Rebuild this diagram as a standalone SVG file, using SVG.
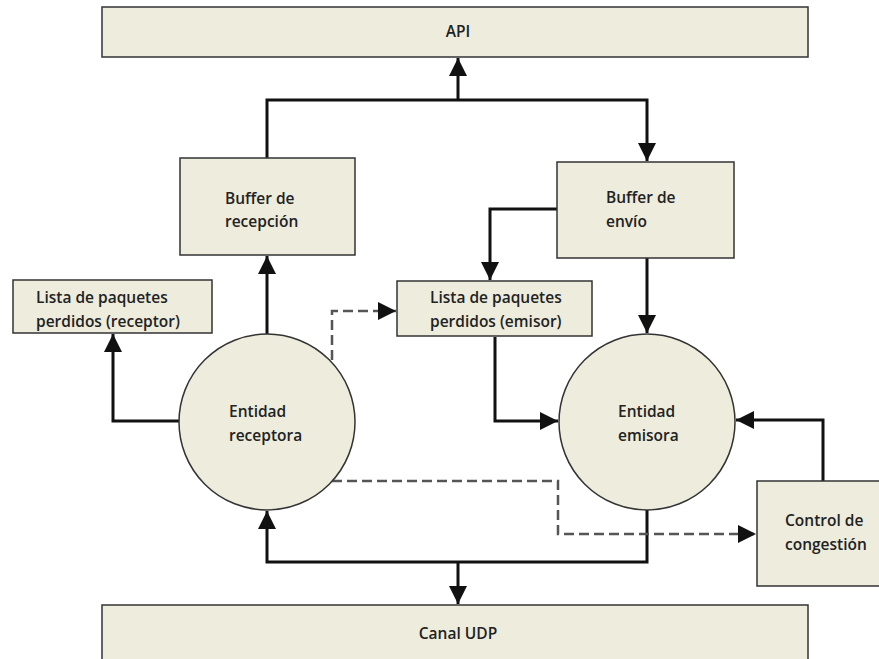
<svg xmlns="http://www.w3.org/2000/svg" width="879" height="659" viewBox="0 0 879 659">
<defs>
<style>
.box{fill:#edecdd;stroke:#333;stroke-width:1.5}
.t{font-family:"Open Sans","Liberation Sans",sans-serif;font-size:15.5px;font-weight:600;fill:#222}
.c{text-anchor:middle}
.ln{fill:none;stroke:#111;stroke-width:3}
.dash{fill:none;stroke:#555;stroke-width:2.5;stroke-dasharray:10,5}
</style>
<marker id="ah" viewBox="0 0 10 10" refX="10" refY="5" markerWidth="6" markerHeight="6" markerUnits="strokeWidth" orient="auto">
<path d="M0,0 L10,5 L0,10 z" fill="#111"/>
</marker>
<marker id="ahd" viewBox="0 0 10 10" refX="10" refY="5" markerWidth="7.2" markerHeight="7.2" markerUnits="strokeWidth" orient="auto">
<path d="M0,0 L10,5 L0,10 z" fill="#111"/>
</marker>
</defs>
<rect width="879" height="659" fill="#fff"/>
<g id="connectors">
<path class="ln" d="M458,100 V58" marker-end="url(#ah)"/>
<path class="ln" d="M267,158 V100 H647 V161" marker-end="url(#ah)"/>
<path class="ln" d="M267,334 V256" marker-end="url(#ah)"/>
<path class="ln" d="M180,421 H113 V334" marker-end="url(#ah)"/>
<path class="ln" d="M557,209 H490 V280" marker-end="url(#ah)"/>
<path class="ln" d="M647,258 V333" marker-end="url(#ah)"/>
<path class="ln" d="M495,337 V421 H558" marker-end="url(#ah)"/>
<path class="ln" d="M823,481 V420 H736" marker-end="url(#ah)"/>
<path class="ln" d="M647,510 V562 H267 V511" marker-end="url(#ah)"/>
<path class="ln" d="M458,562 V604" marker-end="url(#ah)"/>
<path class="dash" d="M332,360 V311 H396" marker-end="url(#ahd)"/>
<path class="dash" d="M332,481 H558 V534 H756" marker-end="url(#ahd)"/>
</g>
<g id="api">
<rect class="box" x="102" y="7" width="706" height="50"/>
<text class="t c" x="458" y="37">API</text>
</g>
<g id="buffer-recepcion">
<rect class="box" x="180" y="158" width="175" height="97"/>
<text class="t" x="225" y="204">Buffer de</text>
<text class="t" x="225" y="227">recepción</text>
</g>
<g id="buffer-envio">
<rect class="box" x="557" y="162" width="177" height="96"/>
<text class="t" x="606" y="203">Buffer de</text>
<text class="t" x="606" y="227">envío</text>
</g>
<g id="lista-receptor">
<rect class="box" x="13" y="280" width="199" height="53"/>
<text class="t" x="36" y="303">Lista de paquetes</text>
<text class="t" x="36" y="327">perdidos (receptor)</text>
</g>
<g id="lista-emisor">
<rect class="box" x="397" y="281" width="195" height="55"/>
<text class="t" x="430" y="303">Lista de paquetes</text>
<text class="t" x="430" y="327">perdidos (emisor)</text>
</g>
<g id="entidad-receptora">
<circle class="box" cx="267" cy="422" r="88"/>
<text class="t" x="229" y="417">Entidad</text>
<text class="t" x="229" y="441">receptora</text>
</g>
<g id="entidad-emisora">
<circle class="box" cx="647" cy="422" r="88"/>
<text class="t" x="618" y="417">Entidad</text>
<text class="t" x="618" y="441">emisora</text>
</g>
<g id="control-congestion">
<rect class="box" x="757" y="481" width="125" height="105"/>
<text class="t" x="785" y="526">Control de</text>
<text class="t" x="785" y="550">congestión</text>
</g>
<g id="canal-udp">
<rect class="box" x="102" y="605" width="706" height="60"/>
<text class="t c" x="458" y="639">Canal UDP</text>
</g>
</svg>
